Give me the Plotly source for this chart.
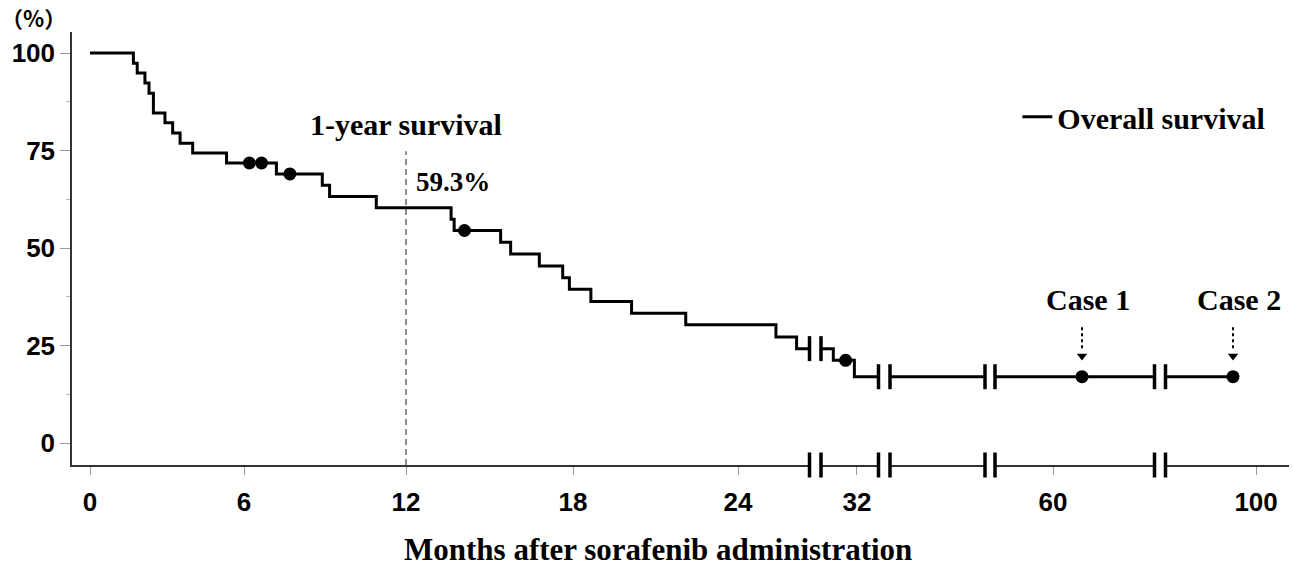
import numpy as np
import plotly.graph_objects as go

# ---------------- data ----------------
# Kaplan-Meier overall survival: event times (months) and survival (%) after each event
event_months = [1.69, 1.84, 2.14, 2.30, 2.47, 2.92, 3.22, 3.51, 4.00, 5.32,
                7.20, 8.90, 9.17, 10.90, 13.62, 13.73, 15.40, 15.76, 16.79, 17.63,
                17.87, 18.65, 20.13, 22.10, 25.38, 26.13, 31.08, 31.90]
event_surv = [97.4, 94.9, 92.3, 89.7, 84.6, 82.1, 79.5, 76.9, 74.4, 71.8,
              69.0, 66.1, 63.2, 60.3, 57.4, 54.5, 51.5, 48.5, 45.4, 42.4,
              39.4, 36.3, 33.3, 30.3, 27.2, 24.2, 21.2, 17.0]
censor_months = [6.20, 6.65, 7.70, 14.10, 31.56, 63.0, 97.2]
last_month = 97.2
case_labels = ["Case 1", "Case 2"]
case_months = [63.0, 97.2]
tick_months = [0, 6, 12, 18, 24, 32, 60, 100]
tick_text = ["0", "6", "12", "18", "24", "32", "60", "100"]
y_ticks = [0, 25, 50, 75, 100]
one_year_month = 12
one_year_text = "59.3%"

# ---------------- broken x-axis scale (months -> display units) ----------------
SEG_MONTHS = [[0, 6, 12, 18, 24, 26.6], [30.6, 32.84], [36, 48], [54, 70.5], [89, 104]]
SEG_U = [[90, 244, 406, 573, 738, 809.5], [821, 878.5], [890, 985], [995, 1154.5], [1165.5, 1289]]


def to_u(m):
    for ms, us in zip(SEG_MONTHS, SEG_U):
        if ms[0] - 1e-9 <= m <= ms[-1] + 1e-9:
            return float(np.interp(m, ms, us))
    raise ValueError(m)


def level_at(t):
    s = 100.0
    for em, es in zip(event_months, event_surv):
        if em <= t:
            s = es
    return s


# build the step curve segment by segment (gaps at the breaks)
cx, cy = [], []
for ms in SEG_MONTHS:
    a, b = ms[0], min(ms[-1], last_month)
    if a > last_month:
        break
    cx.append(to_u(a)); cy.append(level_at(a))
    for em, es in zip(event_months, event_surv):
        if a < em <= b:
            cx.append(to_u(em)); cy.append(es)
    cx.append(to_u(b)); cy.append(level_at(b))
    cx.append(None); cy.append(None)

mx = [to_u(m) for m in censor_months]
my = [level_at(m) for m in censor_months]

fig = go.Figure()
fig.add_trace(go.Scatter(x=cx, y=cy, mode="lines", line_shape="hv",
                         line=dict(color="black", width=3),
                         name="Overall survival", connectgaps=False))
fig.add_trace(go.Scatter(x=mx, y=my, mode="markers",
                         marker=dict(color="black", size=13), showlegend=False))

Y0, Y1 = -5.64, 105.4
SERIF = "Liberation Serif, Times New Roman, serif"
SANS = "Liberation Sans, Arial, sans-serif"

shapes = []
# break markers on curve and on the axis
for k in range(len(SEG_U) - 1):
    u_left = SEG_U[k][-1]
    u_right = SEG_U[k + 1][0]
    lvl = level_at(SEG_MONTHS[k][-1])
    shapes.append(dict(type="rect", xref="x", yref="paper", x0=u_left + 1, x1=u_right - 1,
                       ysizemode="pixel", yanchor=0, y0=-2, y1=2,
                       fillcolor="white", line=dict(width=0), layer="above"))
    for u in (u_left, u_right):
        shapes.append(dict(type="line", xref="x", yref="paper", x0=u, x1=u,
                           ysizemode="pixel", yanchor=0, y0=-12.5, y1=12.5,
                           line=dict(color="black", width=3.5), layer="above"))
        if SEG_MONTHS[k][-1] < last_month:
            shapes.append(dict(type="line", xref="x", yref="y", x0=u, x1=u,
                               ysizemode="pixel", yanchor=lvl, y0=-12.5, y1=12.5,
                               line=dict(color="black", width=3.5), layer="above"))

# 1-year dashed line
shapes.append(dict(type="line", xref="x", yref="y", x0=to_u(one_year_month), x1=to_u(one_year_month),
                   y0=Y0, y1=74.8, line=dict(color="#666666", width=1.5, dash="6px,4px")))

annotations = [
    dict(text="1-year survival", x=to_u(one_year_month), y=81.8, xref="x", yref="y",
         showarrow=False, font=dict(family=SERIF, size=30, color="black", weight="bold")),
    dict(text=one_year_text, x=to_u(one_year_month) + 8, y=66.9, xref="x", yref="y",
         xanchor="left", showarrow=False,
         font=dict(family=SERIF, size=27, color="black", weight="bold")),
    dict(text="（%）", x=-0.032, y=1.034, xref="paper", yref="paper", showarrow=False,
         xanchor="center", yanchor="middle",
         font=dict(family="Noto Sans CJK JP", size=22, color="black", weight="bold")),
    dict(text="Months after sorafenib administration", x=0.4815, y=-0.196,
         xref="paper", yref="paper", showarrow=False, xanchor="center", yanchor="middle",
         font=dict(family=SERIF, size=31, color="black", weight="bold")),
]
for lab, m in zip(case_labels, case_months):
    u = to_u(m)
    annotations.append(dict(text=lab, x=u, y=36.9, xref="x", yref="y", showarrow=False,
                            xshift=6,
                            font=dict(family=SERIF, size=30, color="black", weight="bold")))
    shapes.append(dict(type="line", xref="x", yref="y", x0=u, x1=u, y0=29.7, y1=23.5,
                       line=dict(color="black", width=2, dash="3px,3px")))

fig.add_trace(go.Scatter(x=[to_u(m) for m in case_months], y=[22.3] * len(case_months),
                         mode="markers", marker=dict(symbol="triangle-down", size=9, color="black"),
                         showlegend=False))

fig.update_layout(
    width=1293, height=568,
    margin=dict(l=72, r=4, t=32, b=103),
    paper_bgcolor="white", plot_bgcolor="white",
    shapes=shapes, annotations=annotations,
    showlegend=True,
    legend=dict(x=0.7768, xanchor="left", y=0.804, yanchor="middle",
                font=dict(family=SERIF, size=30, color="black", weight="bold"),
                bgcolor="rgba(0,0,0,0)", itemwidth=30),
    xaxis=dict(range=[72, 1289], showgrid=False, zeroline=False, automargin=False,
               showline=True, linecolor="#333333", linewidth=1.5,
               tickmode="array", tickvals=[to_u(m) for m in tick_months], ticktext=tick_text,
               ticks="outside", ticklen=8, tickcolor="#999999", tickwidth=1,
               ticklabelstandoff=5,
               tickfont=dict(family=SANS, size=26, color="black", weight="bold")),
    yaxis=dict(range=[Y0, Y1], showgrid=False, zeroline=False, automargin=False,
               showline=True, linecolor="#333333", linewidth=1.5,
               tickmode="array", tickvals=y_ticks,
               ticks="outside", ticklen=10, tickcolor="#999999", tickwidth=1,
               minor=dict(dtick=12.5, tick0=0, ticks="outside", ticklen=4, tickcolor="#bbbbbb"),
               ticklabelstandoff=0,
               tickfont=dict(family=SANS, size=26, color="black", weight="bold")),
)

fig.write_html("out.html", config={"displayModeBar": False},
               post_script="document.body.style.margin='0px';")
